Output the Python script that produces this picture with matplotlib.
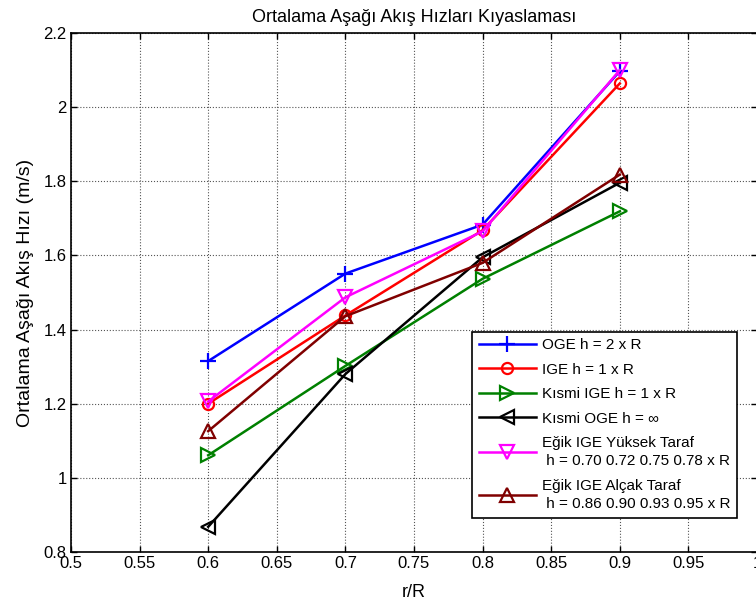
import matplotlib
matplotlib.use("Agg")
import matplotlib.pyplot as plt
from matplotlib.ticker import FuncFormatter

plt.rcParams['font.family'] = ['Liberation Sans', 'DejaVu Sans']

# Data
r_R = [0.6, 0.7, 0.8, 0.9]

oge_2R = [1.315, 1.551, 1.683, 2.097]
ige_1R = [1.200, 1.438, 1.668, 2.064]
kismi_ige = [1.061, 1.302, 1.537, 1.719]
kismi_oge = [0.868, 1.280, 1.595, 1.796]
egik_yuksek = [1.206, 1.487, 1.665, 2.100]
egik_alcak = [1.126, 1.436, 1.580, 1.818]

labels = [
    "OGE h = 2 x R",
    "IGE h = 1 x R",
    "Kısmi IGE h = 1 x R",
    "Kısmi OGE h = \u221e",
    "Eğik IGE Yüksek Taraf\n h = 0.70 0.72 0.75 0.78 x R",
    "Eğik IGE Alçak Taraf\n h = 0.86 0.90 0.93 0.95 x R",
]
series = [oge_2R, ige_1R, kismi_ige, kismi_oge, egik_yuksek, egik_alcak]
colors = ["#0000ff", "#ff0000", "#008000", "#000000", "#ff00ff", "#800000"]
markers = ["+", "o", ">", "<", "v", "^"]
msizes = [12, 8, 10, 10, 10, 10]

fig = plt.figure(figsize=(7.56, 6.06), dpi=100)
# axes: left edge at x=71, bottom at y=552, top at y=33 (pixels)
ax = fig.add_axes([71 / 756, 54 / 606, 686 / 756, 519 / 606])

for vals, lab, c, m, ms in zip(series, labels, colors, markers, msizes):
    ax.plot(r_R, vals, color=c, marker=m, markersize=ms, markerfacecolor="none",
            markeredgecolor=c, markeredgewidth=1.6, linewidth=1.8, label=lab)

ax.set_xlim(0.5, 1.0)
ax.set_ylim(0.8, 2.2)
ax.set_xticks([0.5, 0.55, 0.6, 0.65, 0.7, 0.75, 0.8, 0.85, 0.9, 0.95, 1.0])
ax.set_yticks([0.8, 1.0, 1.2, 1.4, 1.6, 1.8, 2.0, 2.2])
ax.xaxis.set_major_formatter(FuncFormatter(lambda v, p: f"{v:g}"))
ax.yaxis.set_major_formatter(FuncFormatter(lambda v, p: f"{v:g}"))
ax.tick_params(direction="in", top=True, right=True, labelsize=12, length=4, width=1, pad=3)
ax.grid(True, linestyle=":", color="#555555", linewidth=0.8)
for s in ax.spines.values():
    s.set_linewidth(1.2)

ax.set_title("Ortalama Aşağı Akış Hızları Kıyaslaması", fontsize=13, pad=8)
ax.set_xlabel("r/R", fontsize=13, labelpad=9)
ax.set_ylabel("Ortalama Aşağı Akış Hızı (m/s)", fontsize=14, labelpad=7)

leg = ax.legend(loc="lower left", bbox_to_anchor=(0.585, 0.0655), fontsize=11,
                frameon=True, fancybox=False, edgecolor="black", framealpha=1,
                handlelength=3.7, borderpad=0.45, labelspacing=0.68, handletextpad=0.4,
                borderaxespad=0)
leg.get_frame().set_linewidth(1.2)
for t in leg.get_texts():
    t.set_linespacing(1.4)

fig.savefig("out.png", dpi=100)
